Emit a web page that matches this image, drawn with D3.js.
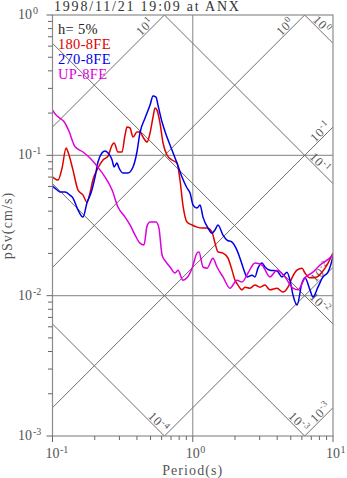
<!DOCTYPE html>
<html><head><meta charset="utf-8">
<script src="https://cdn.jsdelivr.net/npm/d3@7"></script>
<style>body{margin:0;background:#fff}svg{display:block}</style>
</head><body><svg id="c" width="347" height="478"></svg>
<script>
const titleText = "1998/11/21 19:09 at ANX";
const dampingLabel = "h= 5%";
const seriesNames = ["180-8FE", "270-8FE", "UP-8FE"];
const seriesColors = ["#e00000", "#0000e6", "#dd00dd"];
const xTickValues = [0.1, 1, 10];
const xTickExp = ["-1", "0", "1"];
const yTickValues = [1, 0.1, 0.01, 0.001];
const yTickExp = ["0", "-1", "-2", "-3"];
const sdExponents = [0, -1, -2, -3, -4];   // displacement lines, cm
const saExponents = [1, 0, -1, -2, -3];    // acceleration lines, cm/s^2

const period180 = [0.100,0.1095,0.117,0.125,0.129,0.140,0.152,0.165,0.176,0.185,0.194,0.211,0.229,0.249,0.266,0.275,0.293,0.313,0.329,0.340,0.357,0.375,0.400,0.420,0.442,0.472,0.496,0.521,0.538,0.556,0.584,0.614,0.655,0.711,0.772,0.811,0.851,0.910,0.989,1.072,1.164,1.264,1.371,1.441,1.513,1.643,1.784,1.905,2.000,2.101,2.245,2.358,2.560,2.778,3.013,3.272,3.553,3.990,4.396,4.775,5.100,5.537,6.008,6.310,6.851,7.686,8.340,9.057,9.84,10];
const sv180 = [0.070,0.0667,0.0812,0.1127,0.1056,0.0785,0.0566,0.0521,0.0465,0.0539,0.0667,0.0812,0.0926,0.0989,0.1184,0.1224,0.1056,0.1056,0.1396,0.159,0.1566,0.135,0.1466,0.1466,0.135,0.1244,0.1442,0.1875,0.217,0.210,0.170,0.1224,0.1005,0.0926,0.0881,0.0667,0.0442,0.0335,0.0319,0.0308,0.0303,0.0303,0.0284,0.0237,0.0205,0.0201,0.0185,0.0152,0.0129,0.0119,0.0110,0.0115,0.0113,0.0119,0.0115,0.0119,0.0110,0.0113,0.0106,0.0115,0.0134,0.0152,0.0157,0.0145,0.0134,0.0136,0.0147,0.0165,0.0195,0.0201];

const period270 = [0.100,0.108,0.113,0.123,0.133,0.140,0.150,0.165,0.176,0.191,0.201,0.211,0.225,0.237,0.249,0.266,0.275,0.288,0.298,0.318,0.345,0.375,0.400,0.420,0.457,0.496,0.521,0.547,0.565,0.604,0.655,0.711,0.772,0.838,0.910,0.957,1.005,1.072,1.127,1.183,1.285,1.371,1.441,1.513,1.643,1.755,1.905,2.066,2.172,2.318,2.437,2.645,2.778,2.917,3.116,3.272,3.553,3.990,4.325,4.697,4.934,5.185,5.537,6.008,6.310,6.851,7.195,7.812,8.483,9.207,9.84,10];
const sv270 = [0.0604,0.0566,0.0548,0.0548,0.0521,0.0496,0.0421,0.0363,0.0457,0.0566,0.070,0.0896,0.1038,0.1073,0.1038,0.0926,0.0825,0.0881,0.0812,0.0748,0.0748,0.0825,0.1056,0.1442,0.1845,0.228,0.265,0.260,0.228,0.1727,0.135,0.109,0.0881,0.070,0.0585,0.0539,0.0442,0.0421,0.0442,0.0363,0.0303,0.0279,0.0294,0.0319,0.0270,0.0249,0.0241,0.0211,0.0185,0.0152,0.0136,0.0140,0.0136,0.0157,0.0171,0.0160,0.0152,0.0150,0.0136,0.0147,0.0129,0.0101,0.00857,0.0123,0.0134,0.0110,0.00977,0.0115,0.0136,0.0147,0.0179,0.0192];

const periodUP = [0.100,0.106,0.115,0.121,0.130,0.145,0.165,0.185,0.2075,0.237,0.266,0.293,0.329,0.357,0.388,0.420,0.449,0.472,0.496,0.547,0.574,0.604,0.644,0.689,0.747,0.785,0.851,0.910,0.989,1.072,1.108,1.183,1.264,1.393,1.489,1.643,1.844,2.066,2.245,2.477,2.778,3.116,3.553,3.990,4.546,5.185,5.630,6.310,7.195,8.073,9.057,10];
const svUP = [0.210,0.194,0.1815,0.1735,0.1514,0.115,0.1056,0.0957,0.0839,0.070,0.0566,0.0428,0.0363,0.0319,0.0270,0.0237,0.0230,0.0313,0.0335,0.0335,0.0303,0.0195,0.0174,0.0160,0.0145,0.0152,0.0129,0.0134,0.0157,0.0201,0.0205,0.0160,0.0157,0.0185,0.0160,0.0136,0.0113,0.0129,0.0125,0.0145,0.0171,0.0165,0.0136,0.0152,0.0136,0.0113,0.0110,0.0134,0.0147,0.0165,0.0179,0.0195];

const seriesPeriods = [period180, period270, periodUP];
const seriesValues = [sv180, sv270, svUP];

const L = 52.5, R = 333, T = 15, B = 436;
const FONT = "'Liberation Serif', 'Times New Roman', serif";
const svg = d3.select("#c");
const x = d3.scaleLog().domain([0.1, 10]).range([L, R]);
const y = d3.scaleLog().domain([0.001, 1]).range([B, T]);
const TWO_PI = 2 * Math.PI;

svg.append("defs").append("clipPath").attr("id", "clip")
  .append("rect").attr("x", L).attr("y", T).attr("width", R - L).attr("height", B - T);

// grid lines
const grid = svg.append("g").attr("stroke", "#999").attr("stroke-width", 1.2);
grid.append("line").attr("x1", x(1)).attr("x2", x(1)).attr("y1", T).attr("y2", B);
[0.1, 0.01].forEach(v => grid.append("line").attr("x1", L).attr("x2", R).attr("y1", y(v)).attr("y2", y(v)));

// tripartite diagonal lines
const diag = svg.append("g").attr("clip-path", "url(#clip)").attr("stroke", "#6e6e6e").attr("stroke-width", 1).attr("fill", "none");
const lineGen = d3.line().x(d => x(d[0])).y(d => y(d[1]));
sdExponents.forEach(s => {
  const sd = Math.pow(10, s);
  diag.append("path").attr("d", lineGen([[0.1, TWO_PI * sd / 0.1], [10, TWO_PI * sd / 10]]));
});
saExponents.forEach(a => {
  const sa = Math.pow(10, a);
  diag.append("path").attr("d", lineGen([[0.1, sa * 0.1 / TWO_PI], [10, sa * 10 / TWO_PI]]));
});

function powerLabel(g, exp, baseSize, supSize, anchor) {
  const t = g.append("text").attr("font-family", FONT).attr("fill", "#555").attr("text-anchor", anchor)
    .attr("letter-spacing", 0.8);
  t.append("tspan").attr("font-size", baseSize).text("10");
  t.append("tspan").attr("font-size", supSize).attr("dy", -baseSize * 0.38).text(exp);
  return t;
}

// diagonal labels
const r2 = Math.SQRT1_2;
const dlab = svg.append("g");
sdExponents.forEach(s => {
  const sd = Math.pow(10, s);
  let ex, ey, along;
  const svAt10 = TWO_PI * sd / 10;
  if (svAt10 >= 0.001) { ex = R; ey = y(svAt10); along = s === 0 ? -21 : -24; }
  else { ex = x(TWO_PI * sd / 0.001); ey = B; along = -14; }
  const p = 1.5;
  const px = ex + along * r2 + p * r2, py = ey + along * r2 - p * r2;
  const g = dlab.append("g").attr("transform", `translate(${px},${py}) rotate(45)`);
  powerLabel(g, String(s), 12.5, 9, "middle");
});
saExponents.forEach(a => {
  const sa = Math.pow(10, a);
  let ex, ey, along;
  const svAt10 = sa * 10 / TWO_PI;
  if (svAt10 >= 1) { ex = x(TWO_PI / sa); ey = T; along = -22; }
  else { ex = R; ey = y(svAt10); along = -12; }
  const p = 1.5;
  const px = ex + along * r2 - p * r2, py = ey - along * r2 - p * r2;
  const g = dlab.append("g").attr("transform", `translate(${px},${py}) rotate(-45)`);
  powerLabel(g, String(a), 12.5, 9, "middle");
});

// data curves
const curveGen = d3.line().x(d => x(d[0])).y(d => y(d[1])).curve(d3.curveMonotoneX);
const curves = svg.append("g").attr("clip-path", "url(#clip)").attr("fill", "none");
seriesNames.forEach((name, i) => {
  const pts = d3.zip(seriesPeriods[i], seriesValues[i]);
  curves.append("path").attr("d", curveGen(pts)).attr("stroke", seriesColors[i]).attr("stroke-width", 1.5);
});

// frame
svg.append("rect").attr("x", L).attr("y", T).attr("width", R - L).attr("height", B - T)
  .attr("fill", "none").attr("stroke", "#8c8c8c").attr("stroke-width", 1.2);

// ticks
const ticks = svg.append("g").attr("stroke", "#666").attr("stroke-width", 1);
for (let k = -3; k < 0; k++) {
  for (let m = 1; m <= 9; m++) {
    const v = m * Math.pow(10, k);
    const len = m === 1 ? 6 : 4.5;
    ticks.append("line").attr("x1", L - len).attr("x2", L).attr("y1", y(v)).attr("y2", y(v));
  }
}
ticks.append("line").attr("x1", L - 6).attr("x2", L).attr("y1", y(1)).attr("y2", y(1));
for (let k = -1; k < 1; k++) {
  for (let m = 1; m <= 9; m++) {
    const v = m * Math.pow(10, k);
    const len = m === 1 ? 6 : 4;
    ticks.append("line").attr("x1", x(v)).attr("x2", x(v)).attr("y1", B).attr("y2", B + len);
  }
}
ticks.append("line").attr("x1", x(10)).attr("x2", x(10)).attr("y1", B).attr("y2", B + 6);

// tick labels
const tl = svg.append("g");
yTickValues.forEach((v, i) => {
  tl.append("text").attr("font-family", FONT).attr("fill", "#555").attr("font-size", 14)
    .attr("text-anchor", "end").attr("x", 32).attr("y", y(v) + 4).text("10");
  tl.append("text").attr("font-family", FONT).attr("fill", "#555").attr("font-size", 10)
    .attr("x", 33).attr("y", y(v) - 1).text(yTickExp[i]);
});
xTickValues.forEach((v, i) => {
  const t = tl.append("text").attr("font-family", FONT).attr("fill", "#555").attr("font-size", 14)
    .attr("text-anchor", "middle").attr("x", x(v)).attr("y", 458).text("10");
  const w = t.node().getComputedTextLength();
  tl.append("text").attr("font-family", FONT).attr("fill", "#555").attr("font-size", 10)
    .attr("x", x(v) + w / 2 + 0.5).attr("y", 453).text(xTickExp[i]);
});

// axis titles
svg.append("text").attr("font-family", FONT).attr("fill", "#555").attr("font-size", 14)
  .attr("letter-spacing", 1.1).attr("text-anchor", "middle")
  .attr("x", (L + R) / 2).attr("y", 475).text("Period(s)");
svg.append("text").attr("font-family", FONT).attr("fill", "#555").attr("font-size", 14)
  .attr("letter-spacing", 1.1).attr("text-anchor", "middle")
  .attr("transform", `translate(12,${(T + B) / 2}) rotate(-90)`).text("pSv(cm/s)");

// title
svg.append("text").attr("font-family", FONT).attr("fill", "#333").attr("font-size", 14)
  .attr("letter-spacing", 1.8).attr("x", 54).attr("y", 11).text(titleText);

// legend
const lg = svg.append("g").attr("font-family", FONT).attr("font-size", 14.5).attr("letter-spacing", 0.3);
lg.append("text").attr("x", 58).attr("y", 33.5).attr("fill", "#222").text(dampingLabel);
seriesNames.forEach((n, i) => {
  lg.append("text").attr("x", 58).attr("y", 48.5 + i * 15).attr("fill", seriesColors[i]).text(n);
});
</script></body></html>
